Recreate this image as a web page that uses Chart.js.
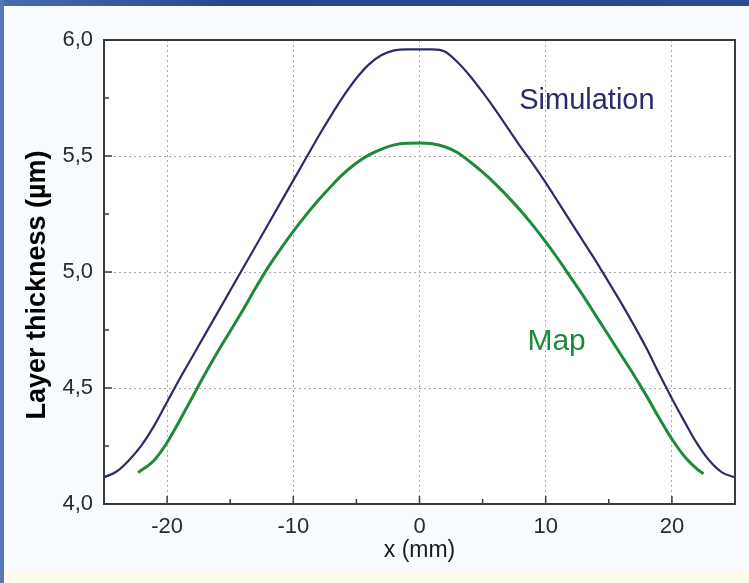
<!DOCTYPE html>
<html>
<head>
<meta charset="utf-8">
<title>Layer thickness</title>
<script src="https://cdn.jsdelivr.net/npm/chart.js@4/dist/chart.umd.min.js"></script>
<style>
  html, body { margin: 0; padding: 0; }
  body { width: 749px; height: 583px; position: relative; overflow: hidden; background: #f8fcfe; }
  #wrap { position: absolute; left: 0; top: 0; width: 749px; height: 583px; }
  #topbar { position: absolute; left: 0; top: 0; width: 749px; height: 6px;
            background: linear-gradient(to right, #4a6cb0, #28468f 30%, #2a4a94); }
  #leftbar { position: absolute; left: 0; top: 0; width: 4px; height: 583px; background: #5676b4; }
  #foot { position: absolute; left: 4px; top: 572px; width: 745px; height: 11px; background: #fffbea; }
</style>
</head>
<body>
<div id="foot"></div>
<div id="wrap"><canvas id="chart"></canvas></div>
<div id="topbar"></div>
<div id="leftbar"></div>
<script>
// x positions (mm) and layer thickness (µm)
const simX = [-25, -24, -23, -22, -21, -20, -19, -18, -17, -16, -15, -14, -13, -12, -11, -10, -9, -8, -7, -6, -5, -4, -3, -2, -1,
  0, 1, 2, 3, 4, 5, 6, 7, 8, 9, 10, 11, 12, 13, 14, 15, 16, 17, 18, 19, 20, 21, 22, 23, 24, 25];
const simY = [4.115, 4.14, 4.19, 4.255, 4.34, 4.44, 4.54, 4.635, 4.73, 4.825, 4.92, 5.015, 5.11, 5.205, 5.30, 5.395, 5.49, 5.585, 5.675, 5.76, 5.835, 5.895, 5.935, 5.955, 5.96,
  5.96, 5.96, 5.95, 5.905, 5.845, 5.775, 5.70, 5.62, 5.54, 5.465, 5.385, 5.30, 5.215, 5.13, 5.045, 4.955, 4.865, 4.77, 4.67, 4.56, 4.455, 4.355, 4.26, 4.185, 4.135, 4.115];

const mapX = [-22.3, -21, -20, -19, -18, -17, -16, -15, -14, -13, -12, -11, -10, -9, -8, -7, -6, -5, -4, -3, -2, -1,
  0, 1, 2, 3, 4, 5, 6, 7, 8, 9, 10, 11, 12, 13, 14, 15, 16, 17, 18, 19, 20, 21, 22, 22.5];
const mapY = [4.135, 4.19, 4.265, 4.36, 4.46, 4.56, 4.655, 4.745, 4.835, 4.93, 5.02, 5.10, 5.175, 5.245, 5.31, 5.37, 5.425, 5.47, 5.505, 5.53, 5.548, 5.555,
  5.556, 5.553, 5.54, 5.515, 5.475, 5.43, 5.38, 5.325, 5.265, 5.20, 5.13, 5.055, 4.975, 4.895, 4.81, 4.725, 4.64, 4.555, 4.465, 4.37, 4.28, 4.205, 4.15, 4.13];

const seriesNames = ['Simulation', 'Map'];
const xTickLabels = ['-20', '-10', '0', '10', '20'];
const yTickLabels = ['4,0', '4,5', '5,0', '5,5', '6,0'];
// where the curve names sit, in data units (left edge, baseline)
const nameX = [7.9, 8.55];
const nameY = [5.704, 4.665];

const navy = '#2b2b6c';
const green = '#1f8a3a';

function toPoints(xs, ys) {
  return xs.map((x, i) => ({ x: x, y: ys[i] }));
}

function isMajorX(v) { return Math.abs(v % 10) < 1e-6; }
function isMajorY(v) { return Math.abs(v * 2 - Math.round(v * 2)) < 1e-6; }

/**
 * Frame, inward tick marks and the text drawn on top of the plot
 */
const framePlugin = {
  id: 'frame',
  afterDatasetsDraw(chart) {
    const { ctx, chartArea: a, scales } = chart;
    ctx.save();
    ctx.strokeStyle = '#3a3a3a';
    ctx.lineWidth = 2;
    ctx.strokeRect(a.left, a.top, a.right - a.left, a.bottom - a.top);

    ctx.lineWidth = 1.5;
    ctx.beginPath();
    scales.x.ticks.forEach(t => {
      const px = scales.x.getPixelForValue(t.value);
      const len = isMajorX(t.value) ? 8 : 5;
      ctx.moveTo(px, a.bottom);
      ctx.lineTo(px, a.bottom - len);
    });
    scales.y.ticks.forEach(t => {
      const py = scales.y.getPixelForValue(t.value);
      const len = isMajorY(t.value) ? 8 : 5;
      ctx.moveTo(a.left, py);
      ctx.lineTo(a.left + len, py);
    });
    ctx.stroke();

    // curve names
    ctx.textBaseline = 'alphabetic';
    ctx.textAlign = 'left';
    ctx.font = '29px "Liberation Sans", Arial, sans-serif';
    ctx.fillStyle = navy;
    ctx.fillText(seriesNames[0], scales.x.getPixelForValue(nameX[0]), scales.y.getPixelForValue(nameY[0]));
    ctx.font = '30px "Liberation Sans", Arial, sans-serif';
    ctx.fillStyle = green;
    ctx.fillText(seriesNames[1], scales.x.getPixelForValue(nameX[1]), scales.y.getPixelForValue(nameY[1]));

    // y axis title
    ctx.translate(38, 285);
    ctx.rotate(-Math.PI / 2);
    ctx.textAlign = 'center';
    ctx.textBaseline = 'middle';
    ctx.font = 'bold 27px "Liberation Sans", Arial, sans-serif';
    ctx.fillStyle = '#000';
    ctx.fillText('Layer thickness (µm)', 0, 0);
    ctx.restore();
  }
};

const plotBgPlugin = {
  id: 'plotBg',
  beforeDraw(chart) {
    const { ctx, chartArea: a } = chart;
    ctx.save();
    ctx.fillStyle = '#ffffff';
    ctx.fillRect(a.left, a.top, a.right - a.left, a.bottom - a.top);
    ctx.restore();
  }
};

const tickFont = { family: '"Liberation Sans", Arial, sans-serif', size: 22 };

new Chart(document.getElementById('chart'), {
  type: 'line',
  data: {
    datasets: [
      {
        label: seriesNames[0],
        data: toPoints(simX, simY),
        borderColor: navy,
        borderWidth: 2.2,
        pointRadius: 0,
        cubicInterpolationMode: 'monotone',
        fill: false
      },
      {
        label: seriesNames[1],
        data: toPoints(mapX, mapY),
        borderColor: green,
        borderWidth: 3,
        pointRadius: 0,
        cubicInterpolationMode: 'monotone',
        fill: false
      }
    ]
  },
  options: {
    responsive: true,
    maintainAspectRatio: false,
    animation: false,
    layout: { padding: { left: 0, right: 14, top: 40, bottom: 0 } },
    plugins: {
      legend: { display: false },
      tooltip: { enabled: false }
    },
    scales: {
      x: {
        type: 'linear',
        min: -25,
        max: 25,
        afterFit(scale) { scale.height = 79; },
        border: { display: false, dash: [2, 3] },
        grid: {
          drawTicks: false,
          lineWidth: 1,
          color: ctx => (ctx.tick && isMajorX(ctx.tick.value) && Math.abs(ctx.tick.value) < 25) ? '#a8a8a8' : 'rgba(0,0,0,0)'
        },
        ticks: {
          stepSize: 5,
          autoSkip: false,
          maxRotation: 0,
          padding: 10,
          color: '#2a2a2a',
          font: tickFont,
          callback: v => {
            const i = xTickLabels.indexOf(String(v));
            return i >= 0 ? xTickLabels[i] : '';
          }
        },
        title: {
          display: true,
          text: 'x (mm)',
          color: '#1a1a1a',
          font: { family: '"Liberation Sans", Arial, sans-serif', size: 23 },
          padding: { top: 0, bottom: 19 }
        }
      },
      y: {
        type: 'linear',
        min: 4,
        max: 6,
        afterFit(scale) { scale.width = 104; },
        border: { display: false, dash: [2, 3] },
        grid: {
          drawTicks: false,
          lineWidth: 1,
          color: ctx => (ctx.tick && isMajorY(ctx.tick.value) && ctx.tick.value > 4 && ctx.tick.value < 6) ? '#a8a8a8' : 'rgba(0,0,0,0)'
        },
        ticks: {
          stepSize: 0.25,
          autoSkip: false,
          padding: 11,
          color: '#2a2a2a',
          font: tickFont,
          callback: v => isMajorY(v) ? yTickLabels[Math.round((v - 4) * 2)] : ''
        }
      }
    }
  },
  plugins: [plotBgPlugin, framePlugin]
});
</script>
</body>
</html>
